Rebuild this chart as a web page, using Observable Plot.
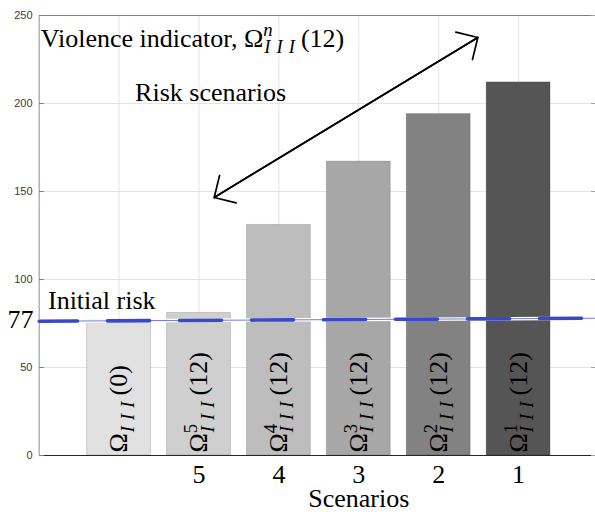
<!DOCTYPE html>
<html><head><meta charset="utf-8">
<script src="https://cdn.jsdelivr.net/npm/d3@7"></script>
<script src="https://cdn.jsdelivr.net/npm/@observablehq/plot@0.6"></script>
<style>html,body{margin:0;padding:0;background:#fff} svg{display:block}</style>
</head><body><div id="chart"></div>
<script>
// ---- data ----
const barPositions = [1, 2, 3, 4, 5, 6];
const barLabels = ["Ω_{III}(0)", "Ω^{5}_{III}(12)", "Ω^{4}_{III}(12)", "Ω^{3}_{III}(12)", "Ω^{2}_{III}(12)", "Ω^{1}_{III}(12)"];
const barValues = [77, 81, 131, 167, 194, 212];
const xTickPositions = [2, 3, 4, 5, 6];
const xTickLabels = ["5", "4", "3", "2", "1"];
const yTicks = [0, 50, 100, 150, 200, 250];
const gridXTicks = [1, 2, 3, 4, 5, 6];
const initialRisk = 77;
const initialRiskLineX = [0, 7];
const initialRiskLineY = [76.3, 78.0];
const arrowStart = [2.19, 146.6];
const arrowEnd = [5.49, 237.5];
const titleText = "Violence indicator, Ω^{n}_{III}(12)";
const riskScenariosText = "Risk scenarios";
const initialRiskText = "Initial risk";
const xLabelText = "Scenarios";

// ---- styles ----
const barFills = ["#e1e1e1", "#cfcfcf", "#bdbdbd", "#a7a7a7", "#828282", "#555555"];
const serif = "'Liberation Serif', 'Times New Roman', 'DejaVu Serif', serif";
const sans = "'Liberation Sans', Arial, Helvetica, sans-serif";
const FS = 26;
const blue = "#3b48c9";

const bars = barPositions.map((p, i) => ({pos: p, value: barValues[i], label: barLabels[i]}));
const riskLine = initialRiskLineX.map((x, i) => ({x, y: initialRiskLineY[i]}));
const arrowFwd = [{x1: arrowStart[0], y1: arrowStart[1], x2: arrowEnd[0], y2: arrowEnd[1]}];
const arrowBack = [{x1: arrowEnd[0], y1: arrowEnd[1], x2: arrowStart[0], y2: arrowStart[1]}];

const plot = Plot.plot({
  width: 595, height: 512,
  marginLeft: 39, marginRight: 0, marginTop: 15, marginBottom: 57,
  x: {domain: [0, 7], range: [38.7, 598]},
  y: {domain: [0, 250], range: [455, 15]},
  color: {domain: barLabels, range: barFills},
  style: {background: "white", color: "black", fontFamily: serif},
  marks: [
    Plot.gridY(yTicks.slice(1, -1), {stroke: "#e4e4e4", strokeOpacity: 1}),
    Plot.gridX(gridXTicks, {stroke: "#e4e4e4", strokeOpacity: 1}),
    Plot.rect(bars, {x1: d => d.pos - 0.4, x2: d => d.pos + 0.4, y1: 0, y2: "value", fill: "label", stroke: "black", strokeOpacity: 0.15}),
    Plot.ruleY([250], {stroke: "#808080", strokeWidth: 1}),
    Plot.ruleX([0], {stroke: "#a0a0a0", strokeWidth: 1.2}),
    Plot.ruleY([0], {stroke: "#262626", strokeWidth: 1.2}),
    Plot.axisY(yTicks, {anchor: "left", tickSize: -5, fill: "none", stroke: "#808080", label: null}),
    Plot.axisY(yTicks, {anchor: "right", tickSize: -5, fill: "none", stroke: "#a0a0a0", label: null}),
    Plot.axisY(yTicks, {anchor: "left", tickSize: 0, tickPadding: 7, fontSize: 11, fontFamily: sans, fill: "#3a3a3a", label: null}),
    Plot.axisX(xTickPositions, {anchor: "bottom", tickSize: 0, tickPadding: 9.5, fontSize: FS, fontFamily: serif, fill: "black", label: null,
      tickFormat: d => xTickLabels[xTickPositions.indexOf(d)]}),
    Plot.line(riskLine, {x: "x", y: "y", stroke: "white", strokeWidth: 3.6}),
    Plot.line(riskLine, {x: "x", y: "y", stroke: blue, strokeWidth: 3.6, strokeDasharray: "42,30", strokeDashoffset: 3.7}),
    Plot.line(riskLine, {x: "x", y: "y", stroke: blue, strokeWidth: 0.9, strokeOpacity: 0.8}),
    Plot.text(bars, {x: "pos", y: 1.7, text: "label", rotate: -90, textAnchor: "start", fontSize: FS, fontFamily: serif, fill: "black"}),
    Plot.arrow(arrowFwd, {x1: "x1", y1: "y1", x2: "x2", y2: "y2", stroke: "black", strokeWidth: 1.7, headLength: 20, headAngle: 90}),
    Plot.arrow(arrowBack, {x1: "x1", y1: "y1", x2: "x2", y2: "y2", stroke: "black", strokeWidth: 1.7, headLength: 20, headAngle: 90}),
    Plot.text([titleText], {x: 0.02, y: 237.1, text: d => d, textAnchor: "start", fontSize: FS, fontFamily: serif, fill: "black"}),
    Plot.text([riskScenariosText], {x: 1.2, y: 206.4, text: d => d, textAnchor: "start", fontSize: FS, fontFamily: serif, fill: "black"}),
    Plot.text([initialRiskText], {x: 0.11, y: 87.7, text: d => d, textAnchor: "start", fontSize: FS, fontFamily: serif, fill: "black"}),
    Plot.text([String(initialRisk)], {x: -0.07, y: initialRisk, text: d => d, textAnchor: "end", fontSize: FS, fontFamily: serif, fill: "black"}),
    Plot.text([xLabelText], {x: 4, y: -24.8, text: d => d, textAnchor: "middle", fontSize: FS, fontFamily: serif, fill: "black"})
  ]
});
document.getElementById("chart").appendChild(plot);

// ---- render simple TeX-like super/subscripts as real tspans ----
function texify(textEl, src) {
  const ns = "http://www.w3.org/2000/svg";
  const size = parseFloat(getComputedStyle(textEl).fontSize) || FS;
  const segs = [];
  let i = 0, buf = "";
  const flush = () => { if (buf) segs.push({t: buf, kind: "n"}); buf = ""; };
  while (i < src.length) {
    const c = src[i];
    if (c === "^" || c === "_") {
      flush();
      let t;
      if (src[i + 1] === "{") { const j = src.indexOf("}", i + 2); t = src.slice(i + 2, j); i = j + 1; }
      else { t = src[i + 1]; i += 2; }
      segs.push({t, kind: c === "^" ? "sup" : "sub"});
    } else { buf += c; i++; }
  }
  flush();
  while (textEl.firstChild) textEl.removeChild(textEl.firstChild);
  const small = size * 0.72;
  const supShift = -size * 0.40, subShift = size * 0.24;
  let cur = 0, prev = null;
  for (const s of segs) {
    const ts = document.createElementNS(ns, "tspan");
    ts.textContent = s.t;
    const target = s.kind === "sup" ? supShift : s.kind === "sub" ? subShift : 0;
    if (target !== cur) ts.setAttribute("dy", (target - cur).toFixed(2));
    cur = target;
    if (s.kind !== "n") {
      ts.setAttribute("font-size", small.toFixed(1));
      if (/[A-Za-z]/.test(s.t)) ts.setAttribute("font-style", "italic");
      if (/^I+$/.test(s.t)) ts.setAttribute("letter-spacing", "6");
    }
    textEl.appendChild(ts);
    if (s.kind === "sub" && prev && prev.kind === "sup") {
      ts.setAttribute("dx", (-prev.el.getComputedTextLength() + 1).toFixed(2));
    } else if (s.kind === "sub") {
      ts.setAttribute("dx", "1");
    }
    prev = {kind: s.kind, el: ts};
  }
}
plot.querySelectorAll("text").forEach(el => {
  const s = el.textContent;
  if (/[\^_]/.test(s)) texify(el, s);
});
</script>
</body></html>
